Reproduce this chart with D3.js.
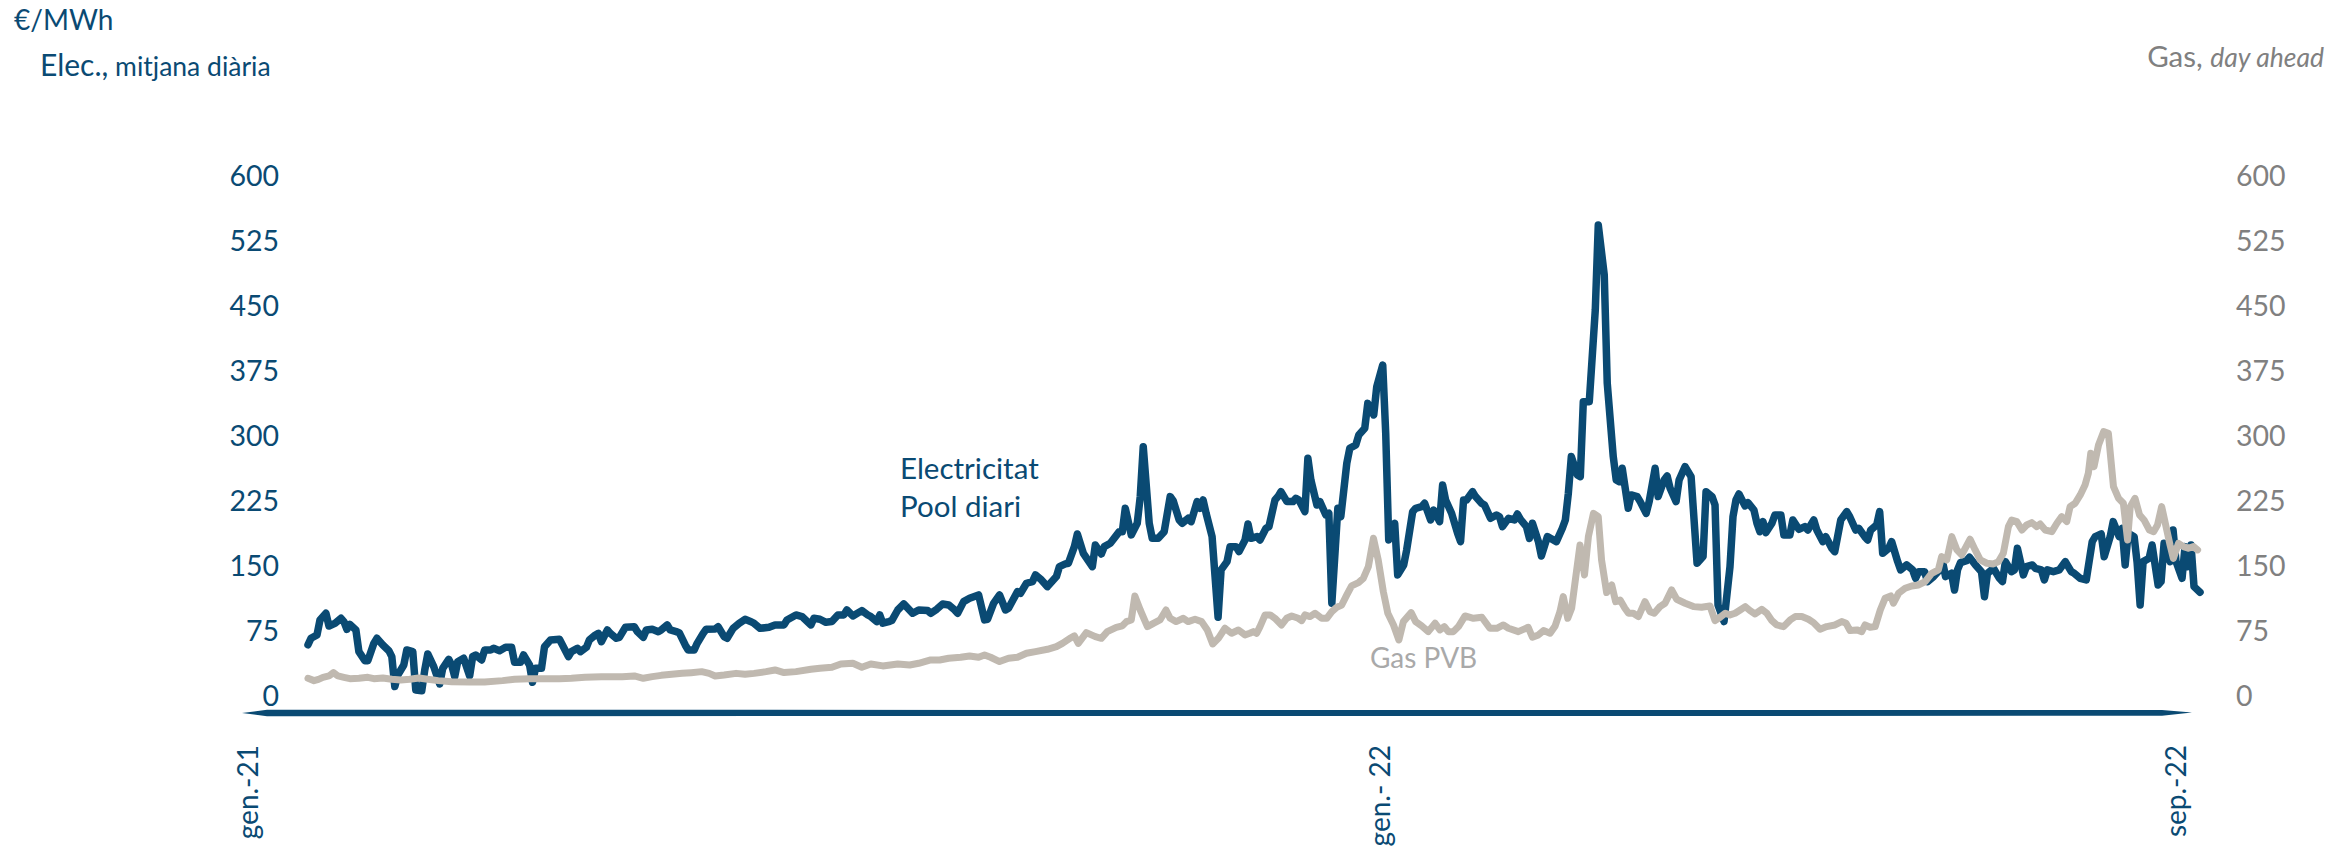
<!DOCTYPE html>
<html>
<head>
<meta charset="utf-8">
<script src="https://cdn.jsdelivr.net/npm/d3@7"></script>
<style>
  html, body { margin: 0; padding: 0; background: #ffffff; }
  svg { display: block; }
  text { font-family: Lato, "Open Sans", sans-serif; }
</style>
</head>
<body>
<svg id="chart" width="2334" height="855"></svg>
<script>
// ---------- DATA (days since 1 Jan 2021, €/MWh) ----------
const elecDay = [0,1,3,4,6,7,9,11,12,13,14,16,17,19,20,22,23,25,27,28,29,30,32,33,35,36,38,39,40,42,44,45,47,48,49,50,52,54,55,56,58,59,61,62,64,66,68,69,71,72,74,75,76,78,79,81,84,85,87,88,90,91,93,94,96,97,98,100,101,103,104,106,109,110,112,113,115,117,118,120,121,123,124,126,127,129,130,132,133,136,137,139,140,142,144,146,148,149,151,154,156,
159,160,163,165,168,169,171,173,175,177,179,180,182,185,187,188,190,191,192,194,195,197,199,202,204,207,208,210,212,214,216,217,219,221,224,226,227,229,231,233,234,237,238,240,242,243,245,247,250,251,253,254,256,257,259,262,263,265,266,268,271,272,273,275,277,278,279,281,282,284,286,288,289,291,292,294,295,297,298,299,300,302,304,305,307,308,310,311,313,314,
315,317,318,320,321,323,324,325,327,329,330,331,333,334,335,337,338,340,341,342,344,345,347,348,350,351,353,354,356,357,359,360,361,363,364,366,367,369,370,372,373,375,376,378,379,380,382,384,385,386,387,389,390,392,393,395,397,398,399,401,403,404,405,407,408,409,411,412,414,415,417,419,420,421,422,424,425,426,428,430,431,433,434,436,437,438,439,441,442,444,445,447,448,450,451,453,454,455,457,458,460,462,463,464,466,467,469,470,471,473,
475,476,477,478,480,481,483,484,485,486,487,489,490,492,493,495,496,498,500,501,503,504,506,507,509,510,512,514,515,517,518,520,521,522,524,525,526,528,529,531,532,534,536,537,538,540,541,543,545,546,547,549,550,551,552,554,555,557,559,560,561,563,565,566,567,569,570,571,573,574,576,577,579,580,581,583,585,587,589,590,592,594,596,597,599,600,602,603,605,606,607,608,610,611,612,613,615,616,618,619,620,622,623,624,626,627,628,629,630,632];
const elecVal = [58,65.5,69.3,86.7,94.4,79.7,82.8,88.6,84.7,75.9,81.6,75.1,50.1,39.7,39.7,59.7,65.5,57.8,51.2,44.3,9.7,23.1,34.7,52,50.1,5.8,5,28.9,47.4,32.8,12.7,30.8,41.2,34.7,21.2,38.5,42.4,22,44.3,46.2,40.5,52,52,53.9,51.2,55.1,55.1,37.7,37.7,46.2,34.7,14.7,30.8,30.8,55.8,63.6,64.3,57.8,44.3,50.1,53.9,50.1,55.1,63.6,69.3,71.2,61.6,75.1,71.2,65.5,66.6,78.2,78.9,73.2,66.6,75.1,75.9,73.2,75.1,80.9,75.1,73.2,72,57.8,52,52,59.7,71.2,75.9,76.3,78.9,67.4,65.5,77,82.8,87.4,84.7,82.8,77,78.2,80.9,
81,86.7,92.5,90.6,81,88.6,87.5,84,84.8,92.5,92.5,98.2,91.3,97.5,92.5,90.6,84.8,92.5,82.9,84.8,86,98.2,105.2,94.4,98.2,97.5,94.4,99,105.2,104,98.2,94.4,107.9,111.7,115.6,86.7,87.5,105.9,115.6,98.2,100.2,119.4,117.5,129.1,131,138.7,132.9,125.2,136.8,148.3,151.4,152.2,171.4,186,163.7,148.3,173.3,162.9,171.4,175.2,188.7,188.7,215.7,184.9,198.4,229.2,286.9,198.4,181,181,188.7,229.2,224.5,202.2,198.4,204.1,200.3,223.4,215.7,225.3,209.9,182.9,89.8,144.5,154.1,171.4,171.4,165.6,179.1,197.6,
181,183,179.1,192.6,194.5,225.3,229.2,234.9,223.4,223.4,227.2,225.3,211.8,273.4,248.4,219.5,223.4,208,209.9,106,215.7,206,267.7,285,288.8,300.4,308.1,336.9,323.5,356.2,381.2,302.3,179.1,198.4,138.7,150.2,167.6,211.8,215.7,217.6,221.5,202.2,213.7,200.3,242.6,225.3,209.9,186.8,177.2,225.3,225.3,234.9,229.2,221.5,219.5,204.1,208,206,194.5,204.1,202.2,209.1,203,194.5,181,198.4,177.2,160.6,183,181,177.2,192.6,202.2,233,275.4,254.2,252.3,338.9,338.9,444.7,542.9,485.2,360.1,275.4,248.4,246.5,261.9,215.7,231.1,229.2,223.4,209.9,223.4,261.9,229.2,248.4,253,238.8,223.4,248.4,263.8,252.3,202.2,152.2,159.9,234.9,229.2,219.5,104,84.8,
148.3,206,225.3,232.2,218.4,222.2,213.7,198.4,188.7,200.3,187.6,198.4,208,208,184.9,184.9,202.2,191.4,194.5,190.6,202.2,190.6,177.2,182.9,169.5,165.6,202.2,211.8,206,190.6,192.6,182.9,179.1,190.6,196.4,211.8,163.7,169.5,177.2,154.1,144.5,150.2,144.5,134.8,142.5,142.5,131,136.8,144.5,154.1,136.8,140.6,121.3,144.5,152.9,155.2,159.1,150.2,142.5,113.6,140.6,146.4,134.8,131,154.1,142.5,144.5,169.5,138.7,148.3,150.2,146.4,144.5,132.9,144.5,142.5,144.5,154.1,142.5,140.6,134.8,132.9,177.2,182.9,186,159.8,182.9,200.3,182.9,192.6,150.2,186.8,182.9,152.9,104,154.1,157.9,173.3,127.1,131,175.2,154.1,190.6,154.1,134.8,171.4,148.3,173.3,125.2,118.7];

const gasDay = [0,2,3.5,5,7,8.5,10,12,14,17,20,22,25,28,31,34,37,40,43.5,48,54,59,65,69,74,78,84,88,92.5,98,105,109,112,115,118,121.5,125,128,131.5,134,136,139,143,146,149,153,156,
159,163,168,171,175,178,182,185,188,192,197,201,204,208,211,214,218,221,224,226,228,231,234,237,240,243,247,250,252,254.5,256,257.3,260,263,265,267,270,272,273.4,275,276.2,278,280.4,282.4,284.6,286.6,288,290,292.4,294,296.3,298.5,300.4,302.2,304.1,306.3,308.5,310.8,313,314.6,
315.8,316.9,318,319.7,321.4,323,325.2,326.9,328.6,330.8,331.9,333,334.7,336.4,338.6,340.3,342,343.6,345.3,347,348.6,350.9,352.5,354.2,355.9,357.5,359.2,360.7,362.6,364.4,365.9,368.5,370,372,374.2,376.5,378.1,379.6,380.9,382.6,384.3,386.5,389.3,392.1,394.8,397.1,399.3,401,404.3,407.6,409,411,412.7,414.9,416.6,418.2,419.3,420.8,422.1,423.2,424.9,426.4,427.7,429.4,431,432.1,433.8,435.5,436.8,438.3,439.9,441.1,442.7,444.4,446.6,448.3,449.7,451.6,453.3,455.5,457.2,460,462.8,465.5,468.3,470,
471.7,473.4,475,476.7,478.4,480.1,481.7,483.4,485.6,487.3,489,490.6,492.9,495.1,496.8,499,501.2,502.9,505.1,507.3,510.1,512.3,513.8,515.1,517.4,519,520.1,521.8,523.5,525.2,526.8,528.7,529.6,531.3,533.5,535.7,538,540.2,542.4,544.6,545.7,547.4,549.1,550.8,552.4,555.2,556.9,558.6,560.8,563,564.7,566.3,568,569.1,570.8,572.5,574.1,575.8,577.5,578.6,580.3,582.5,584.2,585.8,587.5,588.6,590.3,592,593.6,594.7,595.5,596.6,598.1,599.8,601.4,603.1,604.8,606.4,607.8,608.7,610.3,611.8,613.3,615.1,616.5,617.8,619.2,620.9,622,623.1,624.8,626.5,628.1,629.8,631.2];
const gasVal = [19.3,16.6,18.1,20.4,22,25.8,22,20.4,18.9,19.3,20.4,18.9,19.7,18.1,17.4,18.1,19.7,18.1,16.6,15.4,15,15,16.6,18.1,18.9,18.9,18.9,19.3,20.4,21.2,21.2,22,19.3,21.2,22.7,23.9,25,25.8,27,25,22,23.1,25,23.9,25,27,28.9,
25.9,27,29.7,30.9,32,35.9,36.6,32,35.9,33.6,35.9,34.7,36.6,40.5,40.5,42.4,43.6,45.1,43.6,46.3,43.6,38.6,42.4,43.6,48.2,50.1,52.8,55.9,59.7,65.5,68.2,59.7,72.1,67.4,65.5,73.2,78.2,79.8,84.8,86.7,114.4,98.2,79,82.8,86.7,98.2,88.6,84.8,88.6,84.8,87.5,84.8,75.1,59,65.5,77.1,71.3,75.1,69.4,71.3,
73.2,71.3,79,92.5,92.5,88.6,80.9,88.6,91.3,88.6,85.9,92.5,90.6,94.4,88.6,88.6,96.3,101.3,104,115.6,126,129.8,134.8,148.3,181,156,119.4,94.4,80.9,63.6,84.8,95.2,84.8,79.8,73.2,82.9,75.2,79,73.2,73.2,79,91.3,88.6,89.8,77.1,77.1,80.9,77.1,73.2,78.2,66.7,69.4,74.4,71.3,79.8,96.3,113.7,88.6,100.2,129.1,173.3,138.7,183,209.9,206,156,118.3,127.1,107.9,109.8,100.2,94.4,94.4,90.6,107.9,96.3,94.4,102.1,106,121.4,110.6,106,102.1,101.3,102.9,85.9,
89.8,94.4,92.5,94.4,98.2,102.1,97.5,93.6,99,94.4,85.9,80.9,79,86.7,90.6,90.6,87.5,83.6,75.9,79,80.9,84.8,82.8,74.4,75.2,73.2,80.9,78.2,79,98.2,111.7,114.4,106,117.5,123.3,126,127.1,131,140.6,144.5,159.8,156,182.9,167.6,161.8,179.9,167.6,156,152.2,151.4,154.1,163.7,194.5,202.2,200.3,190.6,196.4,199.1,194.5,197.6,190.6,188.7,198.4,206,200.3,217.6,221.5,231.1,242.6,256.1,279.2,263.8,288.8,304.2,302.3,240.7,227.2,221.5,179.1,217.6,227.2,208,202.2,190.6,188.7,196.4,217.6,190.6,173.3,157.9,175.2,171.4,169.5,171.4,167.6];

const yTicks = [0, 75, 150, 225, 300, 375, 450, 525, 600];
const xTickDates = ["2021-01-01", "2022-01-01", "2022-09-01"];
const xTickLabels = ["gen.-21", "gen.- 22", "sep.-22"];
const lastDay = 632;

// ---------- STYLE ----------
const BLUE = "#0a4a73";
const GAS = "#c0b9b0";
const GREY = "#808080";
const GASLABEL = "#a9a9a9";

const svg = d3.select("#chart");

const x = d3.scaleLinear().domain([0, lastDay]).range([308, 2200]);
const y = d3.scaleLinear().domain([0, 600]).range([695, 175.6]);
const xLabelScale = d3.scaleTime()
  .domain(xTickDates.map(d => new Date(d + "T00:00:00")))
  .range([248, 1380, 2176]);

// Left axis
const left = svg.append("g").attr("transform", "translate(279,0)")
  .call(d3.axisLeft(y).tickValues(yTicks).tickSize(0).tickPadding(0));
left.select(".domain").remove();
left.selectAll("text").attr("fill", BLUE).attr("font-size", 28.5)
  .attr("font-family", "Lato, sans-serif").attr("dy", "0.36em");

// Right axis
const right = svg.append("g").attr("transform", "translate(2236,0)")
  .call(d3.axisRight(y).tickValues(yTicks).tickSize(0).tickPadding(0));
right.select(".domain").remove();
right.selectAll("text").attr("fill", GREY).attr("font-size", 28.5)
  .attr("font-family", "Lato, sans-serif").attr("dy", "0.36em");

// Base (x axis) brush line
const xl = x.range()[0] - 66, xr = x.range()[1] - 8, by = y(0) + 18;
svg.append("path")
  .attr("d", `M${xl},${by} L${xl + 25},${by - 3.2} L${xr - 30},${by - 3.0} L${xr},${by - 0.5} L${xr - 30},${by + 2.8} L${xl + 25},${by + 3.2} Z`)
  .attr("fill", BLUE);

// X labels (rotated)
svg.append("g").selectAll("text").data(xTickDates).join("text")
  .attr("transform", d => `translate(${xLabelScale(new Date(d + "T00:00:00"))},745) rotate(-90)`)
  .attr("text-anchor", "end")
  .attr("dy", "0.35em")
  .attr("font-size", 28)
  .attr("fill", BLUE)
  .text((d, i) => xTickLabels[i]);

// Series
const elec = elecDay.map((d, i) => ({ d, v: elecVal[i] }));
const gas = gasDay.map((d, i) => ({ d, v: gasVal[i] }));
const line = d3.line().x(p => x(p.d)).y(p => y(p.v));

svg.append("path").datum(elec).attr("d", line)
  .attr("fill", "none").attr("stroke", BLUE).attr("stroke-width", 7.5)
  .attr("stroke-linejoin", "round").attr("stroke-linecap", "round");
svg.append("path").datum(gas).attr("d", line)
  .attr("fill", "none").attr("stroke", GAS).attr("stroke-width", 7)
  .attr("stroke-linejoin", "round").attr("stroke-linecap", "round");

// Titles
svg.append("text").attr("x", 14).attr("y", 30).attr("font-size", 28).attr("fill", BLUE).text("€/MWh");
const t2 = svg.append("text").attr("x", 40).attr("y", 76).attr("fill", BLUE);
t2.append("tspan").attr("font-size", 30).text("Elec.,");
t2.append("tspan").attr("font-size", 26.5).text(" mitjana diària");

const t3 = svg.append("text").attr("x", 2324).attr("y", 67).attr("fill", GREY).attr("text-anchor", "end");
t3.append("tspan").attr("font-size", 29.5).text("Gas, ");
t3.append("tspan").attr("font-size", 26.5).attr("font-style", "italic").text("day ahead");

// Series labels
const sl = svg.append("text").attr("x", 900).attr("y", 479).attr("fill", BLUE).attr("font-size", 29.5);
sl.append("tspan").attr("x", 900).text("Electricitat");
sl.append("tspan").attr("x", 900).attr("y", 517).text("Pool diari");

svg.append("text").attr("x", 1370).attr("y", 668).attr("fill", GASLABEL).attr("font-size", 28).text("Gas PVB");
</script>
</body>
</html>
